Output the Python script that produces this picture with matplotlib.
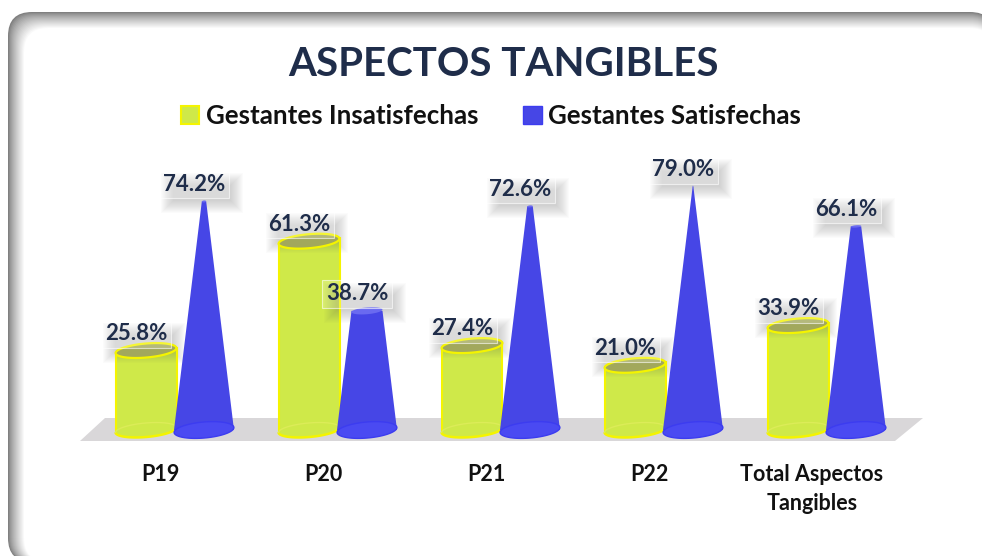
import numpy as np
import matplotlib
matplotlib.use('Agg')
import matplotlib.pyplot as plt
from matplotlib.patches import FancyBboxPatch, Patch, Polygon, Rectangle

categories = ['P19', 'P20', 'P21', 'P22', 'Total Aspectos\nTangibles']
insatisfechas = [25.8, 61.3, 27.4, 21.0, 33.9]
satisfechas = [74.2, 38.7, 72.6, 79.0, 66.1]
series_names = ['Gestantes Insatisfechas', 'Gestantes Satisfechas']

W, H = 982, 556
PX_X = 163.0   # pixels per category
PX_Y = 3.08    # pixels per percent
X0 = 175.0     # pixel of first category
BASE = 430.0   # pixel row of the 0 line
PLATE_BOTTOM = 441.0

NAVY = '#1f2d4a'
LIME = '#cfe949'
YELLOW = '#f4f400'
BLUE = '#4646e6'
BLUE_EDGE = '#3c3cf0'
FONT = 'Lato'


def ell(xc, y, a, b, tilt=5.0):
    # tilted ellipse, sized in pixels, returned in data units
    t = np.linspace(0, 2 * np.pi, 80)
    r = np.radians(tilt)
    dx = a * np.cos(t) * np.cos(r) - b * np.sin(t) * np.sin(r)
    dy = a * np.cos(t) * np.sin(r) + b * np.sin(t) * np.cos(r)
    return np.column_stack([xc + dx / PX_X, y + dy / PX_Y])


fig = plt.figure(figsize=(W / 100, H / 100), dpi=100)
fig.patch.set_facecolor('white')

# panel with soft inner shadow
bg = fig.add_axes([0, 0, 1, 1], zorder=0)
bg.set_xlim(0, W)
bg.set_ylim(H, 0)
bg.axis('off')
steps = 17
for i in range(steps):
    f = i / (steps - 1)
    g = 0.50 + 0.50 * f ** 0.8
    x0 = 8 + i * 1.0
    y0 = 12 + i * 1.0
    x1 = 994
    y1 = 562
    bg.add_patch(FancyBboxPatch((x0 + 24, y0 + 24), x1 - x0 - 48, y1 - y0 - 48,
                                boxstyle='round,pad=24,rounding_size=24',
                                fc=(g, g, g), ec='none'))

ax = fig.add_axes([0, (H - PLATE_BOTTOM) / H, 1, PLATE_BOTTOM / H], zorder=1)
ax.set_xlim(-X0 / PX_X, (W - X0) / PX_X)
ax.set_ylim(-(PLATE_BOTTOM - BASE) / PX_Y, BASE / PX_Y)
ax.patch.set_alpha(0)
for s in ax.spines.values():
    s.set_visible(False)
xs = np.arange(len(categories))
ax.set_yticks([])
ax.set_xticks(xs - 15 / PX_X)
ax.set_xticklabels(categories, fontfamily=FONT, fontweight='bold', fontsize=15.5,
                   color='#111111', linespacing=1.5)
ax.tick_params(axis='x', length=0, pad=16.5)

# floor
low = -(PLATE_BOTTOM - BASE) / PX_Y
high = 12 / PX_Y
ax.add_patch(Polygon([(-95 / PX_X, low), (xs[-1] + 68 / PX_X, low),
                      (xs[-1] + 96 / PX_X, high), (-70 / PX_X, high)],
                     fc='#d9d7d9', ec='none', zorder=1))

dx = 29 / PX_X
hw_cyl = 30.5 / PX_X
hw_cone = 30 / PX_X
vmax = 80.0


def label(x, v):
    # value box with blurred drop shadow, placed relative to the mark top
    cx = x - 10 / PX_X
    cy = v + 17 / PX_Y
    bw, bh = 35 / PX_X, 14 / PX_Y
    for k in range(13):
        grow = -6 + k * 1.0
        ax.add_patch(Rectangle((cx - bw + (8 - grow) / PX_X, cy - bh - (9 + grow) / PX_Y),
                               2 * bw + 2 * grow / PX_X, 2 * bh + 2 * grow / PX_Y,
                               fc='#666666', ec='none', alpha=0.025, zorder=2.5))
    ax.add_patch(Rectangle((cx - bw, cy - bh), 2 * bw, 2 * bh, fc=(1, 1, 1, 0.2),
                           ec=(1, 1, 1, 0.6), lw=0.8, zorder=6))
    ax.text(cx, cy, '%.1f%%' % v, ha='center', va='center', fontfamily=FONT,
            fontweight='bold', fontsize=16, color=NAVY, zorder=7)


for x, a, b in zip(xs, insatisfechas, satisfechas):
    xc = x - dx
    # cylinder
    ax.add_patch(Polygon(np.vstack([ell(xc, 0, 30.5, 7)[40:], ell(xc, a, 30.5, 7)[:40]]),
                         closed=True, fc=LIME, ec='none', zorder=2))
    ax.plot([xc - hw_cyl, xc - hw_cyl], [-3 / PX_Y, a - 3 / PX_Y], color=YELLOW, lw=1.5, zorder=3)
    ax.plot([xc + hw_cyl, xc + hw_cyl], [3 / PX_Y, a + 3 / PX_Y], color=YELLOW, lw=1.5, zorder=3)
    pts = ell(xc, 0, 30.5, 7)
    ax.plot(pts[40:, 0], pts[40:, 1], color=YELLOW, lw=1.8, zorder=3, solid_capstyle='round')
    ax.plot(pts[:40, 0], pts[:40, 1], color='#dcec58', lw=1, zorder=3)
    ax.add_patch(Polygon(ell(xc, a, 30.5, 7), closed=True, fc='#a2a85c', ec=YELLOW, lw=1.6, zorder=3))

    # cone, narrows toward a common apex
    xc = x + dx
    top = hw_cone * (1 - b / vmax)
    ax.add_patch(Polygon([(xc - hw_cone, 0), (xc - top, b), (xc + top, b), (xc + hw_cone, 0)],
                         closed=True, fc=BLUE, ec='none', zorder=4))
    ax.add_patch(Polygon(ell(xc, 0, 30, 8), closed=True, fc='#4a4af2', ec=BLUE_EDGE, lw=1, zorder=4))
    ax.add_patch(Polygon(ell(xc, b, top * PX_X, max(1.0, top * PX_X * 0.22)), closed=True,
                         fc='#6a6af0', ec='none', zorder=4))

for x, a, b in zip(xs, insatisfechas, satisfechas):
    label(x - dx, a)
    label(x + dx, b)

fig.text(503 / W, 1 - 64 / H, 'ASPECTOS TANGIBLES', ha='center', va='center', fontfamily=FONT,
         fontweight='bold', fontsize=29, color=NAVY, zorder=5)

handles = [Patch(fc=LIME, ec=YELLOW, lw=1.5), Patch(fc=BLUE, ec=BLUE_EDGE, lw=1.0)]
leg = fig.legend(handles, series_names, loc='center', bbox_to_anchor=(491 / W, 1 - 116 / H),
                 ncol=2, frameon=False, handlelength=0.7, handleheight=0.7, handletextpad=0.25,
                 columnspacing=1.75, prop={'family': FONT, 'weight': 'bold', 'size': 18.6})
for t in leg.get_texts():
    t.set_color('#111111')

fig.savefig('out.png', dpi=100)
plt.close()
